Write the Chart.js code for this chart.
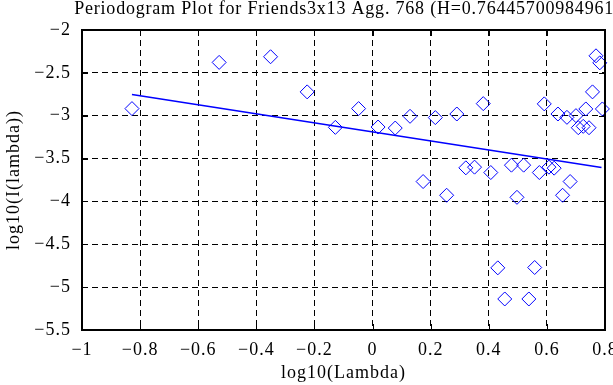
<!DOCTYPE html>
<html>
<head>
<meta charset="utf-8">
<script src="https://cdn.jsdelivr.net/npm/chart.js@4"></script>
<style>
  html, body { margin: 0; padding: 0; background: #fff; }
  #wrap { width: 613px; height: 385px; }
</style>
</head>
<body>
<div id="wrap"><canvas id="canvas" width="613" height="385"></canvas></div>
<script>
// periodogram points (log10 lambda, log10 I(lambda))
const logLambda = [-0.828, -0.528, -0.351, -0.225, -0.128, -0.048, 0.019, 0.078, 0.129, 0.174,
    0.216, 0.255, 0.290, 0.321, 0.351, 0.381, 0.407, 0.431, 0.455, 0.478,
    0.497, 0.520, 0.538, 0.558, 0.574, 0.591, 0.607, 0.625, 0.638, 0.654,
    0.669, 0.680, 0.700, 0.708, 0.725, 0.734, 0.745, 0.757, 0.769, 0.782, 0.791];
const logI = [-2.917, -2.378, -2.312, -2.722, -3.136, -2.917, -3.132, -3.144, -3.007, -3.768,
    -3.022, -3.928, -2.980, -3.608, -3.600, -2.859, -3.663, -4.775, -5.138, -3.577,
    -3.952, -3.577, -5.138, -4.771, -3.663, -2.862, -3.600, -3.612, -2.980, -3.928,
    -3.019, -3.768, -2.999, -3.140, -3.124, -2.921, -3.140, -2.722, -2.301, -2.383, -2.921];
// least squares fit line end points
const fitX = [-0.828, 0.788];
const fitY = [-2.753, -3.604];

const titleText = 'Periodogram Plot for Friends3x13 Agg. 768 (H=0.76445700984961)';
const xTitle = 'log10(Lambda)';
const yTitle = 'log10(I(lambda))';

const serif = '"Liberation Serif", "Times New Roman", serif';

function fmt(v){
    let s = String(Math.round(v*10)/10);
    return s.replace('-', '\u2212');
}

// the old bitmap fonts are spaced wider than Liberation Serif
const spacingPlugin = {
    id: 'spacing',
    beforeDraw(chart){ chart.ctx.letterSpacing = '1px'; }
};

const framePlugin = {
    id: 'frame',
    afterDraw(chart){
        const ctx = chart.ctx;
        const a = chart.chartArea;
        const xs = chart.scales.x, ys = chart.scales.y;
        ctx.save();
        ctx.strokeStyle = '#000';
        ctx.lineWidth = 1;
        ctx.beginPath();
        xs.ticks.forEach(t => {
            const p = Math.round(xs.getPixelForValue(t.value)) + 0.5;
            ctx.moveTo(p, a.top); ctx.lineTo(p, a.top + 6);
            ctx.moveTo(p, a.bottom); ctx.lineTo(p, a.bottom - 6);
        });
        ys.ticks.forEach(t => {
            const p = Math.round(ys.getPixelForValue(t.value)) + 0.5;
            ctx.moveTo(a.left, p); ctx.lineTo(a.left + 6, p);
            ctx.moveTo(a.right, p); ctx.lineTo(a.right - 6, p);
        });
        ctx.stroke();
        ctx.lineWidth = 2;
        ctx.strokeRect(a.left, a.top, a.right - a.left, a.bottom - a.top);
        ctx.fillStyle = '#000';
        ctx.font = '18px ' + serif;
        ctx.letterSpacing = '0.8px';
        ctx.textAlign = 'center';
        ctx.textBaseline = 'alphabetic';
        ctx.fillText(titleText, (a.left + a.right) / 2 + 4, 14);
        ctx.restore();
    }
};

const ctx = document.getElementById('canvas').getContext('2d');
const myChart = new Chart(ctx, {
    type: 'scatter',
    data: {
        datasets: [{
            label: 'periodogram',
            data: logLambda.map((x, i) => ({x: x, y: logI[i]})),
            pointStyle: 'rectRot',
            pointRadius: 7,
            pointHoverRadius: 7,
            borderColor: '#0000ff',
            backgroundColor: 'transparent',
            borderWidth: 1,
            clip: false
        }, {
            type: 'line',
            label: 'fit',
            data: fitX.map((x, i) => ({x: x, y: fitY[i]})),
            borderColor: '#0000ff',
            borderWidth: 1.4,
            pointRadius: 0,
            fill: false
        }]
    },
    options: {
        responsive: false,
        animation: false,
        events: [],
        layout: { padding: { left: 0, top: 30, right: 5, bottom: 0 } },
        plugins: { legend: { display: false }, tooltip: { enabled: false } },
        scales: {
            x: {
                type: 'linear',
                min: -1, max: 0.8,
                afterFit(s){ s.height = 55; s.paddingLeft = 0; s.paddingRight = 0; },
                grid: { color: '#000', lineWidth: 1, drawTicks: false },
                border: { display: false, dash: [6, 4] },
                ticks: { stepSize: 0.2, padding: 9, color: '#000', maxRotation: 0, autoSkip: false,
                         font: { family: serif, size: 18 }, callback: v => fmt(v) },
                title: { display: true, text: xTitle, color: '#000', font: { family: serif, size: 18 },
                         padding: { top: 0, bottom: 1 } }
            },
            y: {
                type: 'linear',
                min: -5.5, max: -2,
                afterFit(s){ s.width = 82; s.paddingTop = 0; s.paddingBottom = 0; },
                grid: { color: '#000', lineWidth: 1, drawTicks: false },
                border: { display: false, dash: [6, 4] },
                ticks: { stepSize: 0.5, padding: 11, color: '#000', autoSkip: false,
                         font: { family: serif, size: 18 }, callback: v => fmt(v) },
                title: { display: true, text: yTitle, color: '#000', font: { family: serif, size: 18 },
                         padding: { top: 3, bottom: 0 } }
            }
        }
    },
    plugins: [spacingPlugin, framePlugin]
});
</script>
</body>
</html>
